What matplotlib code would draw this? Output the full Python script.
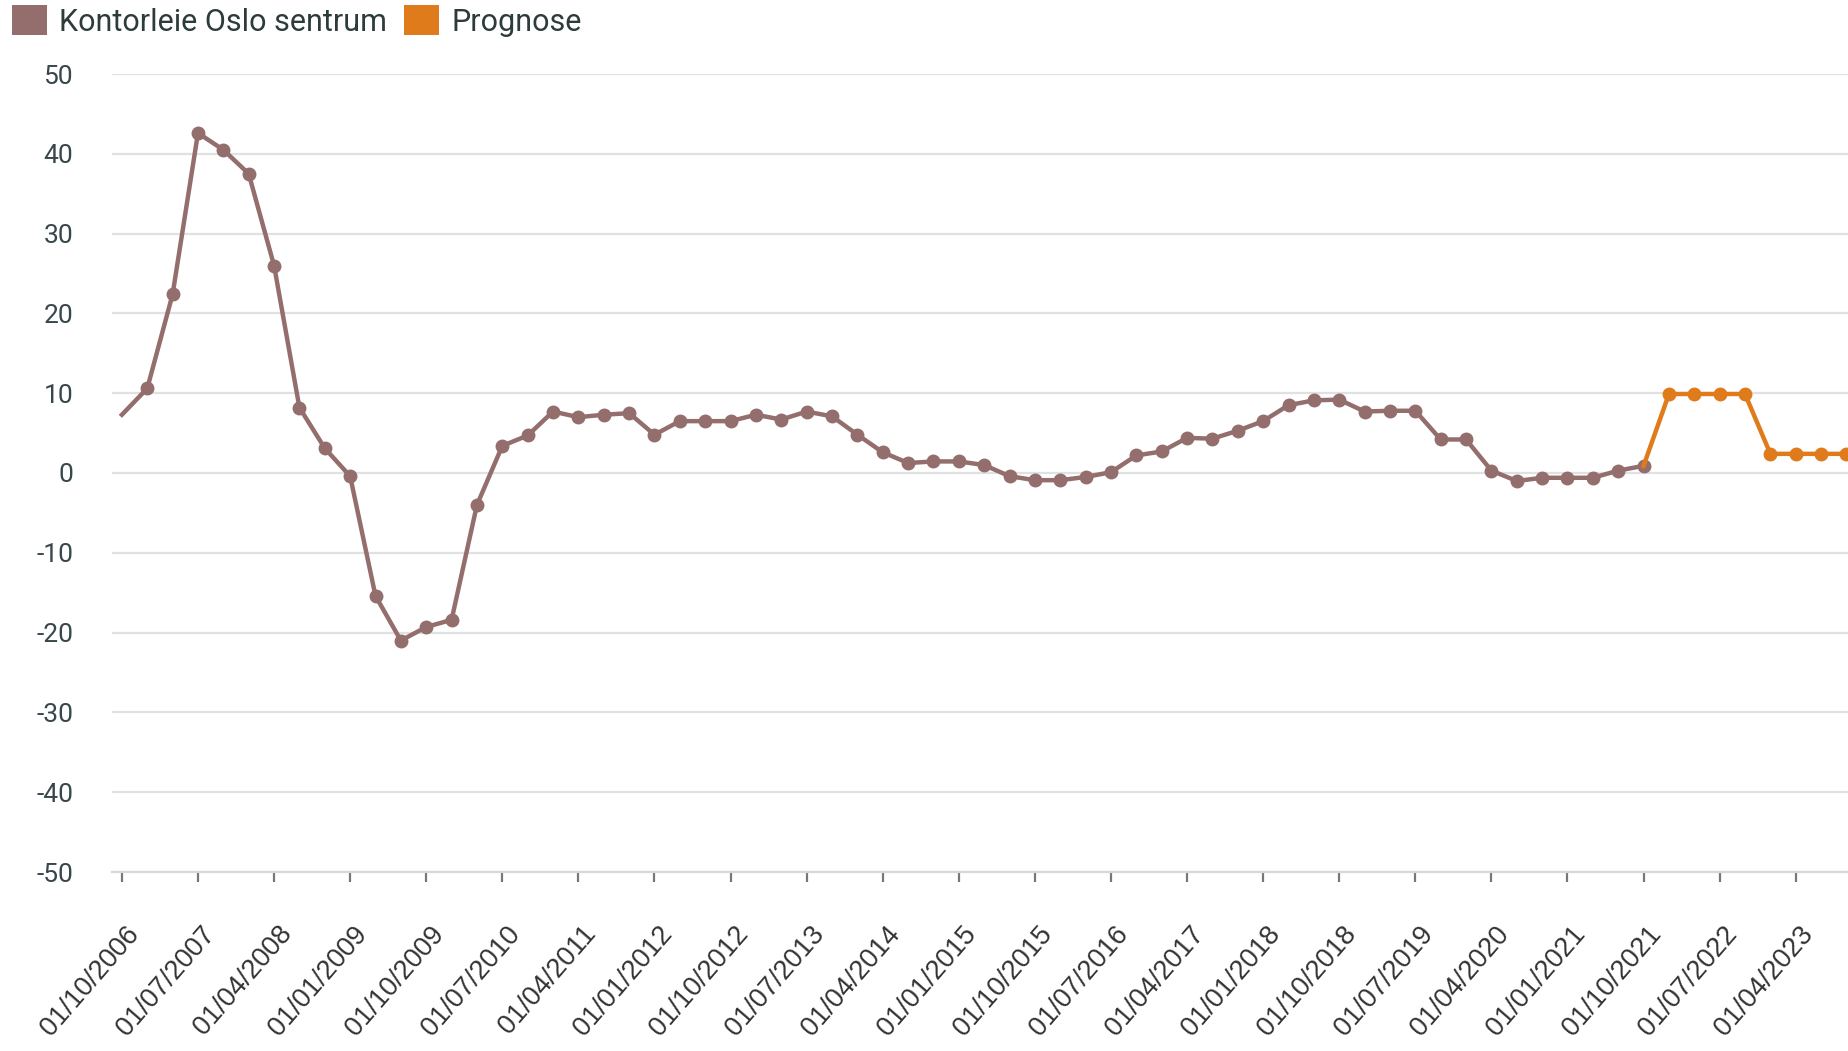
import matplotlib
matplotlib.use("Agg")
import matplotlib.pyplot as plt
from matplotlib.patches import Patch
from matplotlib.transforms import ScaledTranslation

plt.rcParams['font.family'] = ['Roboto', 'DejaVu Sans']

# Quarterly data, first quarter = 01/10/2006
actual = [7.3, 10.6, 22.4, 42.6, 40.5, 37.5, 26.0, 8.2, 3.1, -0.4,
          -15.4, -21.0, -19.3, -18.4, -4.0, 3.4, 4.7, 7.7, 7.0, 7.3,
          7.5, 4.8, 6.5, 6.5, 6.5, 7.3, 6.7, 7.7, 7.1, 4.8,
          2.6, 1.25, 1.45, 1.45, 1.0, -0.4, -0.9, -0.9, -0.5, 0.1,
          2.2, 2.7, 4.4, 4.3, 5.3, 6.5, 8.5, 9.1, 9.2, 7.7,
          7.8, 7.8, 4.2, 4.2, 0.3, -1.0, -0.6, -0.6, -0.6, 0.3,
          0.9]
forecast = [0.9, 9.9, 9.9, 9.9, 9.9, 2.4, 2.4, 2.4, 2.4]  # starts at last actual quarter

tick_labels = ['01/10/2006', '01/07/2007', '01/04/2008', '01/01/2009', '01/10/2009',
               '01/07/2010', '01/04/2011', '01/01/2012', '01/10/2012', '01/07/2013',
               '01/04/2014', '01/01/2015', '01/10/2015', '01/07/2016', '01/04/2017',
               '01/01/2018', '01/10/2018', '01/07/2019', '01/04/2020', '01/01/2021',
               '01/10/2021', '01/07/2022', '01/04/2023']
yticks = [50, 40, 30, 20, 10, 0, -10, -20, -30, -40, -50]

series_names = ['Kontorleie Oslo sentrum', 'Prognose']
brown = '#936e6d'
orange = '#e07b1c'

W, H = 1849, 1051
fig = plt.figure(figsize=(W / 100, H / 100), dpi=100)
ax = fig.add_axes([112 / W, 1 - 872 / H, 1 - 112 / W, (872 - 74) / H])

x_act = list(range(len(actual)))
x_fc = list(range(len(actual) - 1, len(actual) - 1 + len(forecast)))

ax.plot(x_act, actual, color=brown, lw=3.2, marker='o', ms=9,
        markevery=list(range(1, len(actual))), solid_joinstyle='round', zorder=3)
ax.plot(x_fc, forecast, color=orange, lw=3.2, marker='o', ms=9,
        markevery=list(range(1, len(forecast))), solid_joinstyle='round', zorder=3)

ax.set_xlim(-0.39, 68.1)
ax.set_ylim(-50, 50)
ax.set_yticks(yticks)
ax.set_yticklabels([str(v) for v in yticks])
ax.yaxis.grid(True, color='#e0e2e2', lw=1.6)
ax.set_axisbelow(True)
for s in ['top', 'right', 'left']:
    ax.spines[s].set_visible(False)
ax.spines['bottom'].set_color('#d5d9d9')
ax.spines['bottom'].set_linewidth(1.6)
ax.tick_params(axis='y', length=0, pad=28, labelsize=19, labelcolor='#37474a')

tick_pos = [3 * i for i in range(len(tick_labels))]
ax.set_xticks(tick_pos)
ax.set_xticklabels(tick_labels, rotation=49, ha='right', va='center',
                   rotation_mode='anchor', fontsize=19.5, color='#333333',
                   family=['Liberation Sans', 'DejaVu Sans'])
ax.tick_params(axis='x', length=7, width=1.6, color='#777777', pad=0)
offset = ScaledTranslation(0.13, -0.48, fig.dpi_scale_trans)
for lab in ax.get_xticklabels():
    lab.set_transform(lab.get_transform() + offset)

handles = [Patch(facecolor=brown, edgecolor='none'), Patch(facecolor=orange, edgecolor='none')]
leg = fig.legend(handles, series_names, loc='upper left', bbox_to_anchor=(12 / W, 1 - 5 / H),
                 ncol=2, frameon=False, fontsize=22, handlelength=1.15, handleheight=1.15,
                 handletextpad=0.4, columnspacing=0.55, borderpad=0, borderaxespad=0)
for t in leg.get_texts():
    t.set_color('#2d3b3b')

fig.savefig('out.png', dpi=100)
